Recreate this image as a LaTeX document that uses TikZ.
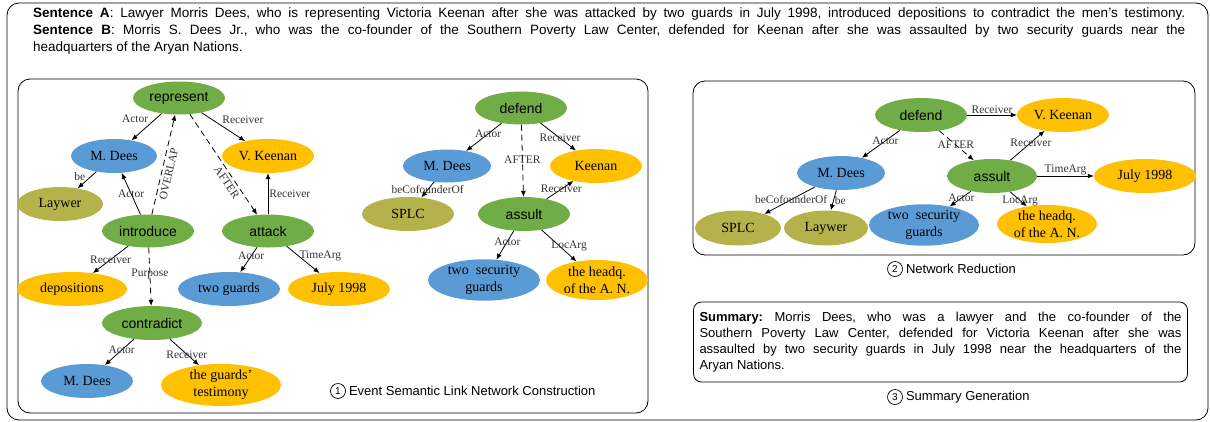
\documentclass[tikz,border=0pt]{standalone}
\usepackage{fontspec}
\setmainfont{Liberation Serif}
\setsansfont{Liberation Sans}
\usetikzlibrary{arrows.meta}
\usetikzlibrary{shapes.geometric}
\usetikzlibrary{positioning}
\definecolor{evgreen}{RGB}{112,173,71}
\definecolor{entblue}{RGB}{91,155,213}
\definecolor{entyellow}{RGB}{255,192,0}
\definecolor{entolive}{RGB}{180,178,74}
\tikzset{
  event/.style={ellipse, fill=evgreen, inner sep=0pt, minimum width=92pt, minimum height=33pt, font=\sffamily\fontsize{14}{17}\selectfont},
  ent/.style={ellipse, inner sep=0pt, minimum width=92pt, minimum height=34pt, align=center, font=\rmfamily\fontsize{14}{17}\selectfont},
  agent/.style={ent, fill=entblue},
  recv/.style={ent, fill=entyellow},
  attr/.style={ent, fill=entolive},
  rel/.style={-{Latex[length=6pt,width=5pt]}, line width=0.8pt},
  dep/.style={rel, dash pattern=on 6pt off 4pt},
  lbl/.style={font=\rmfamily\fontsize{11.5}{11.5}\selectfont, text=black!80, inner sep=1pt},
  frame/.style={draw, line width=0.8pt, rounded corners=12pt},
  numc/.style={circle, draw, line width=0.7pt, inner sep=0pt, minimum size=15pt, font=\sffamily\fontsize{10}{10}\selectfont},
  capt/.style={font=\sffamily\fontsize{13}{13}\selectfont, inner sep=1pt}
}

\begin{document}
\frenchspacing
\begin{tikzpicture}[x=1pt, y=-1pt]
    \useasboundingbox (0,0) rectangle (1210,421);
    \draw[frame] (7,3) rectangle (1208,420);
    \draw[frame] (18,79) rectangle (648,413);
    \draw[frame] (693,81) rectangle (1195,255);

    \node[anchor=north west, inner sep=0pt, text width=1152pt, align=justify, font=\sffamily\fontsize{13.5}{17}\selectfont] (sent) at (33,8)
        {{\parfillskip=0pt \textbf{Sentence A}: Lawyer Morris Dees, who is representing Victoria Keenan after she was attacked by two guards in July 1998, introduced depositions to contradict the men's testimony.\par}
        \textbf{Sentence B}: Morris S. Dees Jr., who was the co-founder of the Southern Poverty Law Center, defended for Keenan after she was assaulted by two security guards near the\linebreak headquarters of the Aryan Nations.};

    \node[event] (rep) at (179,98) {represent};
    \node[agent, minimum width=86pt] (md1) at (114,156) {M. Dees};
    \node[recv] (vk1) at (268,156) {V. Keenan};
    \node[attr, minimum width=86pt] (law1) at (60,204) {Laywer};
    \node[event] (intro) at (148,231) {introduce};
    \node[event] (attack) at (268,231) {attack};
    \node[recv, minimum width=110pt] (dep) at (72,289) {depositions};
    \node[agent, minimum width=102pt] (tg) at (229,289) {two guards};
    \node[recv, minimum width=102pt] (jul1) at (339,289) {July 1998};
    \node[event, minimum width=100pt, minimum height=34pt] (contra) at (152,323) {contradict};
    \node[agent] (md3) at (87,381) {M. Dees};
    \node[recv, minimum width=120pt, minimum height=40pt] (test) at (221,385) {the guards'\\testimony};

    \draw[rel] (rep) -- node[lbl, pos=0.4, above left] {Actor} (md1);
    \draw[rel] (rep) -- node[lbl, pos=0.45, above right] {Receiver} (vk1);
    \draw[rel] (md1) -- node[lbl, pos=0.3, left=4pt] {be} (law1);
    \draw[rel] (intro) -- node[lbl, pos=0.5] {Actor} (md1);
    \draw[dep] (intro) -- node[lbl, pos=0.42, sloped, below=2pt] {OVERLAP} (rep);
    \draw[dep] (rep) -- node[lbl, pos=0.64, sloped, below=2pt] {AFTER} (attack);
    \draw[rel] (attack) -- node[lbl, pos=0.5, right] {Receiver} (vk1);
    \draw[rel] (intro) -- node[lbl, pos=0.5] {Receiver} (dep);
    \draw[dep] (intro) -- node[lbl, pos=0.46] {Purpose} (contra);
    \draw[rel] (attack) -- node[lbl, pos=0.35] {Actor} (tg);
    \draw[rel] (attack) -- node[lbl, pos=0.35, right] {TimeArg} (jul1);
    \draw[rel] (contra) -- node[lbl, pos=0.42] {Actor} (md3);
    \draw[rel] (contra) -- node[lbl, pos=0.58] {Receiver} (test);

    \node[event] (def1) at (521,108) {defend};
    \node[agent, minimum width=88pt, minimum height=33pt] (md2) at (447,166) {M. Dees};
    \node[recv] (kee) at (596,166) {Keenan};
    \node[attr] (splc1) at (408,214) {SPLC};
    \node[event, minimum height=34pt] (ass1) at (524,214) {assult};
    \node[agent, minimum width=112pt, minimum height=40pt] (tsg1) at (484,280) {two\ \ security\\guards};
    \node[recv, minimum width=102pt, minimum height=40pt] (hq1) at (597,280) {the headq.\\of the A. N.};

    \draw[rel] (def1) -- node[lbl, pos=0.38] {Actor} (md2);
    \draw[rel] (def1) -- node[lbl, pos=0.55] {Receiver} (kee);
    \draw[dep] (def1) -- node[lbl, pos=0.48] {AFTER} (ass1);
    \draw[rel] (md2) -- node[lbl, pos=0.5] {beCofounderOf} (splc1);
    \draw[rel] (ass1) -- node[lbl, pos=0.55] {Receiver} (kee);
    \draw[rel] (ass1) -- node[lbl, pos=0.37] {Actor} (tsg1);
    \draw[rel] (ass1) -- node[lbl, pos=0.5, xshift=10pt] {LocArg} (hq1);

    \node[numc] (c1) at (338,391) {1};
    \node[capt, right=2pt of c1] (cap1) {Event Semantic Link Network Construction};

    \node[event, minimum height=34pt] (def2) at (921,115) {defend};
    \node[recv] (vk2) at (1063,115) {V. Keenan};
    \node[agent, minimum width=88pt] (md4) at (841,173) {M. Dees};
    \node[event, minimum width=90pt, minimum height=34pt] (ass2) at (992,176) {assult};
    \node[recv, minimum width=102pt] (jul2) at (1145,176) {July 1998};
    \node[attr, minimum width=86pt, minimum height=35pt] (splc2) at (738,228) {SPLC};
    \node[attr, minimum width=84pt, minimum height=35pt] (law2) at (826,228) {Laywer};
    \node[agent, minimum width=110pt, minimum height=40pt] (tsg2) at (924,225) {two\ \ security\\guards};
    \node[recv, minimum width=100pt, minimum height=38pt] (hq2) at (1047,224) {the headq.\\of the A. N.};

    \draw[rel] (def2) -- node[lbl, pos=0.5, above] {Receiver} (vk2);
    \draw[rel] (def2) -- node[lbl, pos=0.38] {Actor} (md4);
    \draw[dep] (def2) -- node[lbl, pos=0.48] {AFTER} (ass2);
    \draw[rel] (ass2) -- node[lbl, pos=0.6] {Receiver} (vk2);
    \draw[rel] (ass2) -- node[lbl, pos=0.5, above] {TimeArg} (jul2);
    \draw[rel] (md4) -- node[lbl, pos=0.47] {beCofounderOf} (splc2);
    \draw[rel] (md4) -- node[lbl, pos=0.5, right] {be} (law2);
    \draw[rel] (ass2) -- node[lbl, pos=0.45] {Actor} (tsg2);
    \draw[rel] (ass2) -- node[lbl, pos=0.6] {LocArg} (hq2);

    \node[numc] (c2) at (895,269) {2};
    \node[capt, right=2pt of c2] (cap2) {Network Reduction};

    \node[draw, line width=0.8pt, rounded corners=8pt, text width=482pt, inner xsep=6pt, inner ysep=4pt, minimum height=80pt, align=justify, font=\sffamily\fontsize{13}{16}\selectfont] (summ) at (940.5,342)
        {\textbf{Summary:} Morris Dees, who was a lawyer and the co-founder of the\linebreak Southern Poverty Law Center, defended for Victoria Keenan after she was\linebreak assaulted by two security guards in July 1998 near the headquarters of the\linebreak Aryan Nations.};

    \node[numc] (c3) at (895,397) {3};
    \node[capt, right=2pt of c3] (cap3) {Summary Generation};
\end{tikzpicture}
\end{document}
